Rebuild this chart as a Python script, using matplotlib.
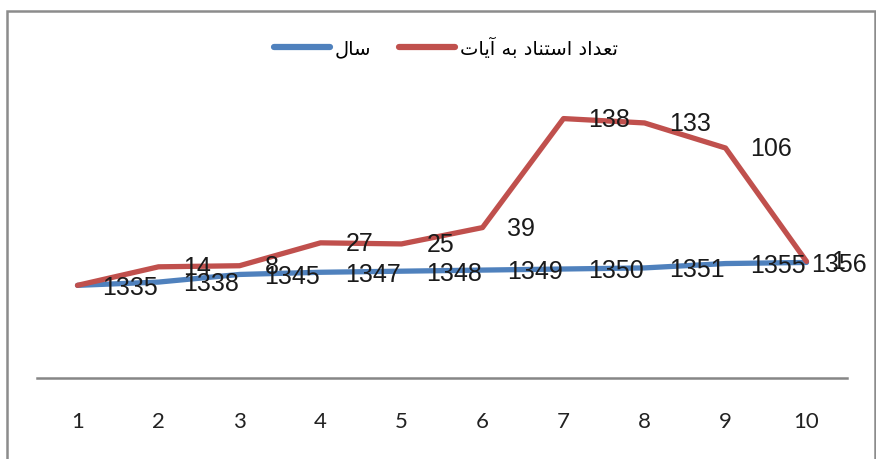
import numpy as np
import matplotlib
matplotlib.use('Agg')
import matplotlib.pyplot as plt
from matplotlib.patches import Rectangle
from matplotlib.lines import Line2D

# ---- data ----
categories = ['1', '2', '3', '4', '5', '6', '7', '8', '9', '10']
year_values = [1335, 1338, 1345, 1347, 1348, 1349, 1350, 1351, 1355, 1356]
citation_values = [0, 14, 8, 27, 25, 39, 138, 133, 106, 1]

# Persian legend labels, written with Arabic presentation forms (logical order)
name_year_forms = [0xFEB3, 0xFE8E, 0xFEDD]  # سال
name_cite_forms = [0xFE97, 0xFECC, 0xFEAA, 0xFE8D, 0xFEA9, 0x20,
                   0xFE8D, 0xFEB3, 0xFE98, 0xFEE8, 0xFE8E, 0xFEA9, 0x20,
                   0xFE91, 0xFEEA, 0x20,
                   0xFE81, 0xFEF3, 0xFE8E, 0xFE95]  # تعداد استناد به آیات


def visual(codes):
    return ''.join(chr(c) for c in reversed(codes))


name_year = visual(name_year_forms)
name_cite = visual(name_cite_forms)

BLUE = '#4F81BD'
RED = '#C0504D'
W, H = 876, 460

fig = plt.figure(figsize=(W / 100, H / 100), dpi=100)
fig.patch.set_facecolor('white')

# chart-area border
fig.add_artist(Rectangle((7 / W, -0.05), (875 - 7) / W, (H - 12) / H + 0.05,
                         transform=fig.transFigure, fill=False,
                         edgecolor='#8C8C8C', lw=1.8, zorder=0))

ax = fig.add_axes([37 / W, (H - 379) / H, (847 - 37) / W, (379 - 106.5) / H])
x = np.arange(1, len(categories) + 1)
blue = np.array(year_values, dtype=float)
red_top = blue + np.array(citation_values, dtype=float)

lb, = ax.plot(x, blue, color=BLUE, lw=3.8, solid_joinstyle='round',
              solid_capstyle='round', zorder=3)
lr, = ax.plot(x, red_top, color=RED, lw=3.8, solid_joinstyle='round',
              solid_capstyle='round', zorder=3)

ax.set_xlim(0.5, len(categories) + 0.5)
ax.set_ylim(1250, 1500)
ax.set_xticks(x)
ax.set_xticklabels(categories, fontsize=16, family='Lato', color='#222222')
ax.tick_params(axis='x', length=0, pad=24)
ax.set_yticks([])
for s in ['left', 'right', 'top']:
    ax.spines[s].set_visible(False)
ax.spines['bottom'].set_color('#868686')
ax.spines['bottom'].set_linewidth(1.8)
ax.patch.set_alpha(0)

label_kw = dict(textcoords='offset points', ha='left', va='center',
                fontsize=18, family='Liberation Sans', color='#1a1a1a',
                zorder=5, annotation_clip=False)
anns = []
for xi, yv, v in zip(x, blue, year_values):
    anns.append(ax.annotate(str(v), (xi, yv), xytext=(18, -1), **label_kw))
for xi, yv, v in zip(x, red_top, citation_values):
    if v == 0:
        continue
    ax.annotate(str(v), (xi, yv), xytext=(18, 0), **label_kw)

# keep labels inside the chart area (like Excel does)
fig.canvas.draw()
renderer = fig.canvas.get_renderer()
limit = 867
for a in anns:
    bb = a.get_window_extent(renderer)
    if bb.x1 > limit:
        dx = (bb.x1 - limit) * 72 / 100
        ox, oy = a.xyann
        a.xyann = (ox - dx, oy)

handles = [Line2D([], [], color=BLUE, lw=4.5, solid_capstyle='round'),
           Line2D([], [], color=RED, lw=4.5, solid_capstyle='round')]
fig.legend(handles, [name_year, name_cite], loc='center',
           bbox_to_anchor=(446 / W, 1 - 48 / H), ncol=2, frameon=False,
           prop={'family': ['DejaVu Sans'], 'size': 14},
           handlelength=2.85, handletextpad=0.25, columnspacing=1.45)

fig.savefig('out.png', dpi=100, facecolor='white')
